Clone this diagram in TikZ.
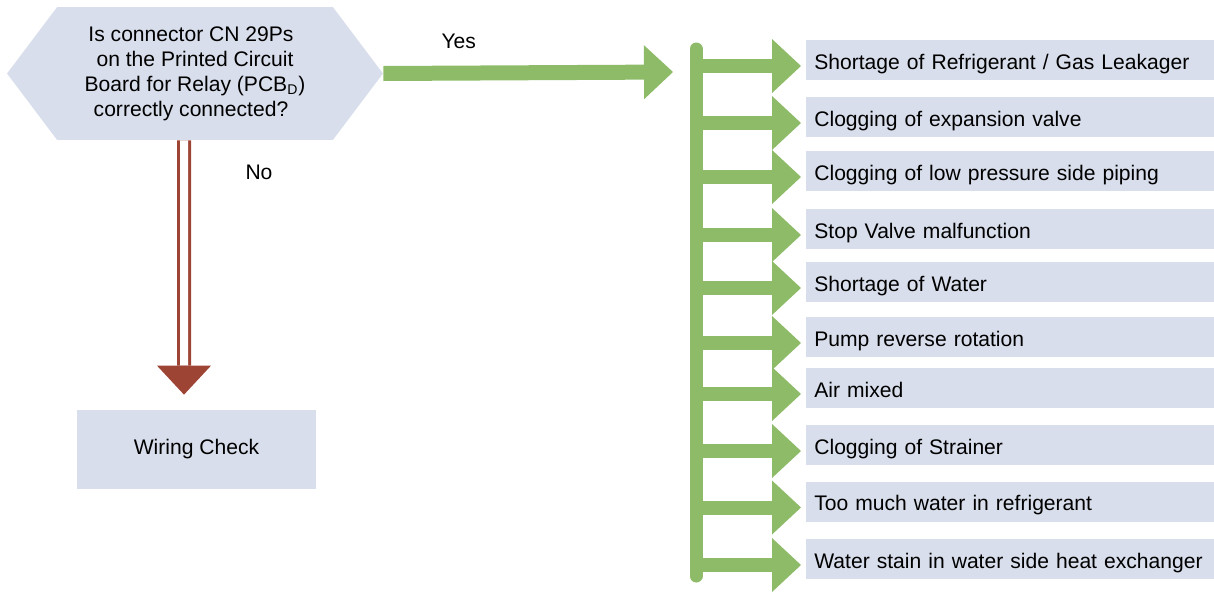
\documentclass[tikz,border=0pt]{standalone}
\usepackage{fontspec}
\setmainfont{Liberation Sans}
\usetikzlibrary{shapes.symbols, arrows.meta, positioning, calc}
\definecolor{boxblue}{RGB}{216,222,235}
\definecolor{yesgreen}{RGB}{141,187,103}
\definecolor{nored}{RGB}{158,68,52}

\begin{document}
\begin{tikzpicture}[x=0.02cm, y=-0.02cm, font=\fontsize{12}{14.2}\selectfont,
    cause/.style={fill=boxblue, anchor=west, minimum height=0.8cm, text width=7.84cm, text height=0.37cm, text depth=0pt, inner xsep=0.16cm, align=left},
    greenarrow/.style={draw=yesgreen, line width=0.28cm, -{Triangle[width=1.08cm, length=0.58cm, line width=0pt]}}]
    \useasboundingbox (0,0) rectangle (1214,592);

    \node [signal, signal to=west and east, signal pointer angle=106, fill=boxblue, minimum width=7.52cm, minimum height=2.66cm, inner sep=0pt, align=center] (question) at (195,73.5)
      {Is connector CN 29Ps\hspace*{0.16cm}\\ on the Printed Circuit\hspace*{0.16cm}\\ Board for Relay (PCB\textsubscript{D})\hspace*{0.16cm}\\ correctly connected?\hspace*{0.16cm}};

    \node [fill=boxblue, minimum width=4.78cm, minimum height=1.58cm] (wiring) at (196.5,449.5) {Wiring Check};

    \node [cause] (c1) at (806,60) {Shortage of Refrigerant / Gas Leakager};
    \node [cause] (c2) at (806,117) {Clogging of expansion valve};
    \node [cause] (c3) at (806,171) {Clogging of low pressure side piping};
    \node [cause] (c4) at (806,229) {Stop Valve malfunction};
    \node [cause] (c5) at (806,282) {Shortage of Water};
    \node [cause] (c6) at (806,337) {Pump reverse rotation};
    \node [cause] (c7) at (806,388) {Air mixed};
    \node [cause] (c8) at (806,445) {Clogging of Strainer};
    \node [cause] (c9) at (806,501.5) {Too much water in refrigerant};
    \node [cause] (c10) at (806,559) {Water stain in water side heat exchanger};

    \coordinate (yesend) at (673,72);
    \coordinate (bartop) at (696,49);
    \coordinate (barbot) at (696,576);

    \draw [greenarrow, line width=0.3cm] (question.east) -- node[pos=0.26, yshift=0.64cm] {Yes} (yesend);
    \draw [yesgreen, line width=0.26cm, line cap=round] (bartop) -- (barbot);

    \draw [greenarrow] ($(c1.west -| bartop)+(0,6)$) -- ($(c1.west)+(-5,6)$);
    \draw [greenarrow] ($(c2.west -| bartop)+(0,6)$) -- ($(c2.west)+(-5,6)$);
    \draw [greenarrow] ($(c3.west -| bartop)+(0,6)$) -- ($(c3.west)+(-5,6)$);
    \draw [greenarrow] ($(c4.west -| bartop)+(0,6)$) -- ($(c4.west)+(-5,6)$);
    \draw [greenarrow] ($(c5.west -| bartop)+(0,6)$) -- ($(c5.west)+(-5,6)$);
    \draw [greenarrow] ($(c6.west -| bartop)+(0,6)$) -- ($(c6.west)+(-5,6)$);
    \draw [greenarrow] ($(c7.west -| bartop)+(0,6)$) -- ($(c7.west)+(-5,6)$);
    \draw [greenarrow] ($(c8.west -| bartop)+(0,6)$) -- ($(c8.west)+(-5,6)$);
    \draw [greenarrow] ($(c9.west -| bartop)+(0,6)$) -- ($(c9.west)+(-5,6)$);
    \draw [greenarrow] ($(c10.west -| bartop)+(0,6)$) -- ($(c10.west)+(-5,6)$);

    \draw [draw=nored, line width=0.06cm, double=white, double distance=0.16cm] ([xshift=-0.22cm]question.south) -- node[pos=0.14, xshift=1.5cm] {No} ([xshift=-0.25cm, yshift=0.88cm]wiring.north);
    \fill [nored] ([xshift=-0.79cm, yshift=0.88cm]wiring.north) -- ([xshift=0.29cm, yshift=0.88cm]wiring.north) -- ([xshift=-0.25cm, yshift=0.3cm]wiring.north) -- cycle;
  \end{tikzpicture}
\end{document}
